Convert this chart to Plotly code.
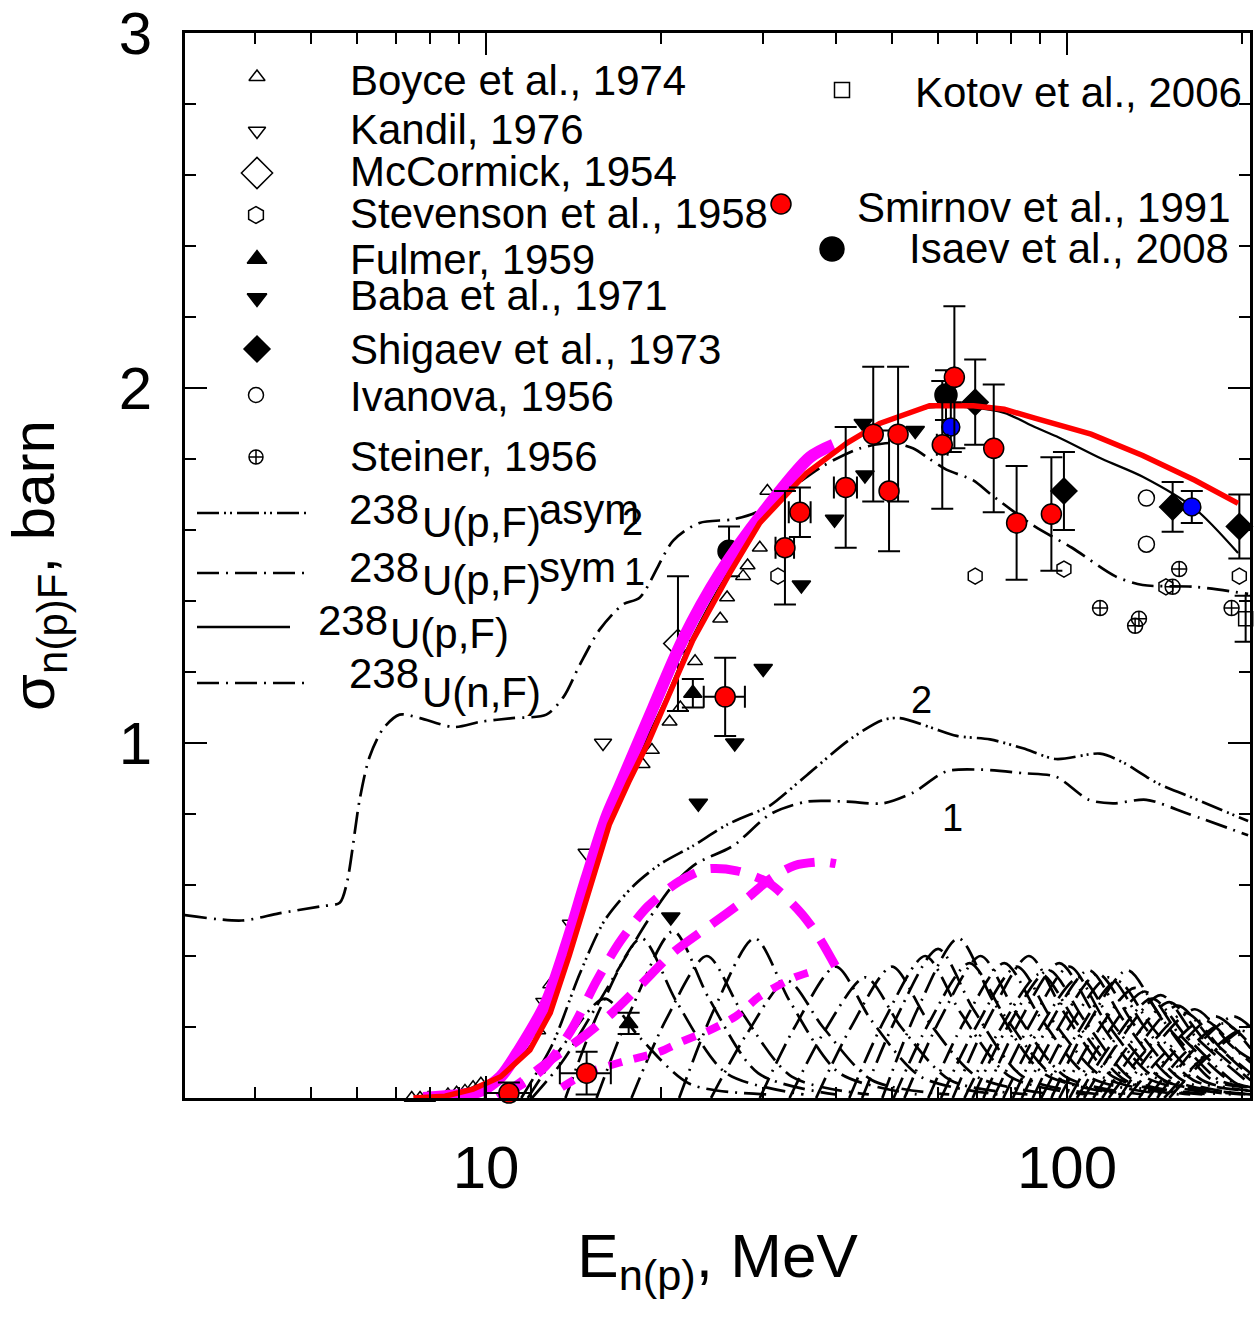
import plotly.graph_objects as go

# ---------------- layout constants ----------------
FIG_W, FIG_H = 1255, 1317
ML, MR, MT, MB = 185, 5, 33, 219
PW = FIG_W - ML - MR
PH = FIG_H - MT - MB
FONT = "Liberation Sans, Arial, sans-serif"

# ---------------- experimental data ----------------
boyce_x = [7.45, 7.7, 7.95, 8.6, 8.9, 9.2, 9.5, 9.8, 12.3, 12.9, 18.6, 19.3, 20.7, 21.6, 22.9, 25.3, 26.0, 27.7, 28.2, 29.6, 30.5]
boyce_y = [0.0, 0.0, 0.0, 0.01, 0.015, 0.02, 0.03, 0.04, 0.19, 0.32, 0.94, 0.98, 1.06, 1.10, 1.23, 1.35, 1.41, 1.47, 1.50, 1.55, 1.71]

kandil_x = [12.6, 14.0, 14.9, 15.9]
kandil_y = [0.27, 0.49, 0.69, 1.00]

mccormick_x = [21.4]
mccormick_y = [1.28]
mccormick_ey = [0.19]

stevenson_x = [31.8, 69.5, 98.8, 148, 198]
stevenson_y = [1.47, 1.47, 1.49, 1.44, 1.47]

fulmer_x = [17.6, 22.7]
fulmer_y = [0.21, 1.14]
fulmer_ey = [0.03, 0.04]

baba_x = [20.8, 23.2, 26.8, 30.0, 34.9, 39.8, 44.6, 44.9, 54.8]
baba_y = [0.51, 0.83, 1.00, 1.21, 1.445, 1.63, 1.90, 1.755, 1.88]

shigaev_x = [69.5, 98.8, 152, 198]
shigaev_y = [1.96, 1.71, 1.665, 1.61]
shigaev_ey = [0.12, 0.11, 0.07, 0.09]

ivanova_x = [137, 137]
ivanova_y = [1.69, 1.56]

steiner_x = [114, 131, 133, 152, 156, 192]
steiner_y = [1.38, 1.33, 1.35, 1.44, 1.49, 1.38]

kotov_x = [203]
kotov_y = [1.35]
kotov_ey = [0.065]

smirnov_x = [10.95, 14.9, 25.8, 32.7, 34.7, 41.6, 46.4, 49.4, 51.2, 61.0, 64.0, 74.8, 81.9, 94.0]
smirnov_y = [0.014, 0.07, 1.13, 1.55, 1.65, 1.72, 1.87, 1.71, 1.87, 1.84, 2.03, 1.83, 1.62, 1.645]
smirnov_ey = [0.03, 0.06, 0.11, 0.16, 0.07, 0.17, 0.19, 0.17, 0.19, 0.18, 0.20, 0.18, 0.16, 0.16]
smirnov_ex = [1.0, 1.5, 2.1, 1.2, 1.5, 1.9, 0, 0, 0, 1.3, 0, 0, 0, 0]

isaev_x = [26.2, 61.9]
isaev_y = [1.54, 1.98]
isaev_ey = [0.07, 0.07]

blue_x = [63.1, 164]
blue_y = [1.89, 1.665]
blue_ey = [0.07, 0.045]

# ---------------- calculated curves ----------------
red_x = [7.5, 8.5, 9.5, 10.6, 11.9, 12.9, 13.9, 15.1, 16.3, 17.6, 19.0, 20.2, 22.7, 26.3, 29.6, 35.6, 41.8,
         47.6, 58, 69, 78, 88, 110, 135, 166, 197]
red_y = [0.0, 0.005, 0.025, 0.06, 0.135, 0.24, 0.40, 0.59, 0.77, 0.89, 1.00, 1.10, 1.29, 1.48, 1.62, 1.76, 1.845,
         1.90, 1.95, 1.95, 1.94, 1.915, 1.87, 1.81, 1.74, 1.675]

pf_x = [7.8, 9.5, 10.6, 11.9, 12.9, 13.9, 15.1, 16.3, 17.6, 19.0, 20.2, 22.7, 26.3, 29.6, 35.6, 41.8, 47.6,
        58, 69, 78, 88, 97, 115, 135, 166, 197]
pf_y = [0.0, 0.03, 0.065, 0.145, 0.255, 0.42, 0.61, 0.79, 0.91, 1.02, 1.11, 1.30, 1.49, 1.62, 1.76, 1.845, 1.90,
        1.945, 1.945, 1.93, 1.89, 1.86, 1.80, 1.75, 1.66, 1.535]

mag_x = [7.8, 8.5, 9.2, 9.8, 10.6, 11.4, 12.7, 13.8, 14.9, 16.1, 17.0, 19.4, 21.8, 25.3, 30.5, 36.1, 39.6]
mag_y = [0.0, 0.005, 0.01, 0.02, 0.06, 0.135, 0.27, 0.44, 0.62, 0.79, 0.88, 1.10, 1.29, 1.48, 1.665, 1.805, 1.84]

nf_x = [3.03, 3.8, 4.4, 5.2, 5.6, 5.76, 6.06, 6.3, 6.65, 7.1, 7.7, 8.8, 9.8, 11.1, 12.7, 13.6, 14.5, 15.7,
        17.2, 18.4, 21.0, 23.3, 26.6, 29.2, 33, 38, 44, 50, 54.3, 58, 62, 69, 74, 88, 102, 121, 135, 166, 205]
nf_y = [0.515, 0.50, 0.52, 0.54, 0.55, 0.605, 0.84, 0.96, 1.04, 1.08, 1.07, 1.045, 1.06, 1.07, 1.08, 1.13,
        1.22, 1.32, 1.39, 1.41, 1.57, 1.62, 1.63, 1.65, 1.71, 1.78, 1.83, 1.845, 1.83, 1.80, 1.77, 1.74, 1.70,
        1.61, 1.55, 1.47, 1.445, 1.44, 1.42]

asym_x = [11.5, 13, 14.5, 16, 18, 20, 22.7, 26, 29.6, 30.9, 35.7, 42.3, 48.2, 51.6, 58, 64.6, 73.7, 84, 95.7,
          114, 125, 143, 162, 205]
asym_y = [0.0, 0.15, 0.35, 0.5, 0.6, 0.66, 0.71, 0.77, 0.81, 0.825, 0.91, 1.01, 1.065, 1.07, 1.045, 1.02, 1.01,
          0.985, 0.955, 0.97, 0.945, 0.887, 0.85, 0.78]

sym_x = [12, 13.5, 15, 17, 19, 21, 23, 26.6, 30.9, 35.7, 41.8, 48.2, 54.3, 62, 70.9, 84, 95.7, 109, 120, 137,
         162, 205]
sym_y = [0.0, 0.1, 0.22, 0.37, 0.5, 0.6, 0.66, 0.71, 0.80, 0.835, 0.835, 0.83, 0.86, 0.92, 0.925, 0.915, 0.905,
         0.84, 0.83, 0.84, 0.80, 0.74]

magd1_x = [10.5, 12.5, 14, 15.5, 17, 19, 21.5, 24, 27, 30.7, 34.9, 37.5, 40]
magd1_y = [0.0, 0.08, 0.19, 0.33, 0.44, 0.54, 0.61, 0.645, 0.64, 0.605, 0.52, 0.45, 0.37]

magd2_x = [10.5, 11.6, 13, 14.9, 16.5, 18.5, 21, 24, 28, 31, 34, 38, 40]
magd2_y = [0.0, 0.05, 0.11, 0.18, 0.24, 0.32, 0.41, 0.48, 0.56, 0.62, 0.655, 0.665, 0.66]

magd3_x = [13.5, 14.9, 17, 19.9, 21.8, 24.2, 26.9, 29.5, 31.3, 34, 37]
magd3_y = [0.03, 0.07, 0.10, 0.13, 0.16, 0.19, 0.23, 0.285, 0.31, 0.34, 0.36]

# individual fission-chance contributions
hump_x = [
    [11.8, 13.6, 16.0, 18.4, 22.4, 30.4],
    [13.7, 15.7, 18.5, 21.3, 25.9, 35.2],
    [15.5, 17.9, 21.0, 24.2, 29.4, 39.9],
    [17.8, 20.4, 24.0, 27.6, 33.6, 45.6],
    [21.5, 24.7, 29.0, 33.4, 40.6, 55.1],
    [24.4, 28.1, 33.0, 38.0, 46.2, 62.7],
    [29.6, 34.0, 40.0, 46.0, 56.0, 76.0],
    [33.3, 38.3, 45.0, 51.8, 63.0, 85.5],
    [37.0, 42.5, 50.0, 57.5, 70.0, 95.0],
    [42.2, 48.5, 57.0, 65.6, 79.8, 108],
    [48.1, 55.3, 65.0, 74.8, 91.0, 124],
    [52.5, 60.4, 71.0, 81.7, 99.4, 135],
    [57.7, 66.3, 78.0, 89.7, 109, 148],
    [63.6, 73.1, 86.0, 98.9, 120, 163],
    [68.8, 79.0, 93.0, 107, 130, 177],
    [74.7, 85.9, 101, 116, 141, 192],
    [80.7, 92.7, 109, 125, 153, 207],
    [87.3, 100, 118, 136, 165, 207],
    [94.0, 108, 127, 146, 178, 207],
    [101, 116, 136, 156, 190, 207],
    [107, 123, 145, 167, 203],
    [115, 132, 155, 178, 207],
    [123, 141, 166, 191, 207],
    [133, 153, 180, 207],
    [143, 164, 193, 207],
    [150, 173, 203, 207],
    [44.4, 51.0, 60.0, 69.0, 84.0, 114],
    [50.3, 57.8, 68.0, 78.2, 95.2, 129],
    [60.7, 69.7, 82.0, 94.3, 115, 156],
    [66.6, 76.5, 90.0, 104, 126, 171],
    [71.8, 82.5, 97.0, 112, 136, 184],
    [77.7, 89.3, 105, 121, 147, 200],
    [83.6, 96.0, 113, 130, 158, 207],
    [90.3, 104, 122, 140, 171, 207],
    [97.0, 111, 131, 151, 183, 207],
    [104, 119, 140, 161, 196, 207],
    [111, 128, 150, 173, 207],
    [118, 136, 160, 184, 207],
    [127, 146, 172, 198, 207],
    [138, 158, 186, 207],
    [147, 168, 198, 207],
]
hump_y = [
    [0, 0.15, 0.28, 0.17, 0.04, 0.01],
    [0, 0.25, 0.45, 0.27, 0.07, 0.01],
    [0, 0.26, 0.47, 0.28, 0.07, 0.01],
    [0, 0.22, 0.40, 0.24, 0.06, 0.01],
    [0, 0.25, 0.45, 0.27, 0.07, 0.01],
    [0, 0.18, 0.33, 0.20, 0.05, 0.01],
    [0, 0.20, 0.37, 0.22, 0.06, 0.01],
    [0, 0.19, 0.34, 0.20, 0.05, 0.01],
    [0, 0.20, 0.37, 0.22, 0.06, 0.01],
    [0, 0.22, 0.40, 0.24, 0.06, 0.01],
    [0, 0.25, 0.45, 0.27, 0.07, 0.01],
    [0, 0.22, 0.40, 0.24, 0.06, 0.01],
    [0, 0.21, 0.38, 0.23, 0.06, 0.01],
    [0, 0.22, 0.40, 0.24, 0.06, 0.01],
    [0, 0.20, 0.36, 0.22, 0.05, 0.01],
    [0, 0.20, 0.37, 0.22, 0.06, 0.01],
    [0, 0.20, 0.36, 0.22, 0.05, 0.01],
    [0, 0.19, 0.34, 0.20, 0.05, 0.02],
    [0, 0.20, 0.36, 0.22, 0.05, 0.03],
    [0, 0.17, 0.30, 0.18, 0.05, 0.03],
    [0, 0.16, 0.29, 0.17, 0.05],
    [0, 0.14, 0.26, 0.16, 0.06],
    [0, 0.14, 0.25, 0.15, 0.10],
    [0, 0.13, 0.23, 0.14],
    [0, 0.13, 0.23, 0.20],
    [0, 0.11, 0.20, 0.20],
    [0, 0.23, 0.42, 0.25, 0.06, 0.01],
    [0, 0.21, 0.38, 0.23, 0.06, 0.01],
    [0, 0.20, 0.37, 0.22, 0.06, 0.01],
    [0, 0.19, 0.35, 0.21, 0.05, 0.01],
    [0, 0.21, 0.38, 0.23, 0.06, 0.01],
    [0, 0.19, 0.34, 0.20, 0.05, 0.01],
    [0, 0.19, 0.35, 0.21, 0.05, 0.01],
    [0, 0.18, 0.33, 0.20, 0.05, 0.02],
    [0, 0.17, 0.31, 0.19, 0.05, 0.03],
    [0, 0.15, 0.28, 0.17, 0.04, 0.03],
    [0, 0.15, 0.27, 0.16, 0.05],
    [0, 0.13, 0.24, 0.14, 0.07],
    [0, 0.12, 0.22, 0.13, 0.11],
    [0, 0.12, 0.21, 0.15],
    [0, 0.10, 0.19, 0.18],
]

# ---------------- axis ticks ----------------
x_tickvals = [10, 100]
x_ticktext = ["10", "100"]
x_minor = [4, 5, 6, 7, 8, 9, 20, 30, 40, 50, 60, 70, 80, 90, 200]
y_tickvals = [1, 2, 3]
y_ticktext = ["1", "2", "3"]
y_minor = [0.2, 0.4, 0.6, 0.8, 1.2, 1.4, 1.6, 1.8, 2.2, 2.4, 2.6, 2.8]

DASHDOT = "22px,7px,2px,7px"
DASHDOTDOT = "22px,5px,2px,4px,2px,5px"

fig = go.Figure()


def line(x, y, color, width, dash="solid", spline=True):
    fig.add_trace(go.Scatter(
        x=x, y=y, mode="lines", showlegend=False, hoverinfo="skip",
        line=dict(color=color, width=width, dash=dash,
                  shape="spline" if spline else "linear", smoothing=0.8)))


def points(x, y, symbol, size, color="black", lw=1.5, ey=None, ex=None, lcolor="black"):
    fig.add_trace(go.Scatter(
        x=x, y=y, mode="markers", showlegend=False, hoverinfo="skip",
        marker=dict(symbol=symbol, size=size, color=color, line=dict(color=lcolor, width=lw)),
        error_y=dict(type="data", array=ey, color="black", thickness=2, width=11, visible=ey is not None),
        error_x=dict(type="data", array=ex, color="black", thickness=2, width=11, visible=ex is not None),
        cliponaxis=False))


# humps
for hx, hy in zip(hump_x, hump_y):
    line(hx, hy, "black", 2.7, DASHDOT)

# component curves
line(asym_x, asym_y, "black", 2.7, DASHDOTDOT)
line(sym_x, sym_y, "black", 2.7, DASHDOT)
line(nf_x, nf_y, "black", 2.7, DASHDOT)

# magenta dashed contributions
line(magd1_x, magd1_y, "#FF00FF", 9, "30px,16px")
line(magd2_x, magd2_y, "#FF00FF", 9, "30px,16px")
line(magd3_x, magd3_y, "#FF00FF", 8, "14px,12px")

# black solid
line(pf_x, pf_y, "black", 2.2, "solid", spline=True)

# open / black markers
points(boyce_x, boyce_y, "triangle-up-open", 13)
points(kandil_x, kandil_y, "triangle-down-open", 15)
points(mccormick_x, mccormick_y, "diamond-open", 22, ey=mccormick_ey)
points(stevenson_x, stevenson_y, "hexagon-open", 16)
points(fulmer_x, fulmer_y, "triangle-up", 16, ey=fulmer_ey)
points(baba_x, baba_y, "triangle-down", 16)
points(shigaev_x, shigaev_y, "diamond", 20, ey=shigaev_ey)
points(ivanova_x, ivanova_y, "circle-open", 16)
points(steiner_x, steiner_y, "circle-cross-open", 15)
points(kotov_x, kotov_y, "square-open", 14, ey=kotov_ey)
points(isaev_x, isaev_y, "circle", 22, ey=isaev_ey)

# magenta thick and red curves
line(mag_x, mag_y, "#FF00FF", 12, "solid")
line(red_x, red_y, "#FF0000", 5.5, "solid", spline=False)

points(blue_x, blue_y, "circle", 18, color="#0000FF", ey=blue_ey)
points(smirnov_x, smirnov_y, "circle", 20, color="#FF0000", ey=smirnov_ey, ex=smirnov_ex)

# ---------------- in-plot legend ----------------
def fx(px):
    return (px - ML) / PW


def fy(py):
    return (FIG_H - MB - py) / PH


leg_markers = [  # (label, symbol, size, fill, px, py, text_px, text_py)
    ("Boyce et al., 1974", "triangle-up-open", 14, "black", 257, 77, 348, 80),
    ("Kandil, 1976", "triangle-down-open", 15, "black", 257, 131, 348, 129),
    ("McCormick, 1954", "diamond-open", 24, "black", 257, 173, 348, 172),
    ("Stevenson et al., 1958", "hexagon-open", 17, "black", 256, 215, 348, 213),
    ("Fulmer, 1959", "triangle-up", 17, "black", 257, 259, 348, 259),
    ("Baba et al., 1971", "triangle-down", 17, "black", 257, 298, 348, 296),
    ("Shigaev et al., 1973", "diamond", 20, "black", 257, 349, 348, 349),
    ("Ivanova, 1956", "circle-open", 15, "black", 256, 395, 348, 396),
    ("Steiner, 1956", "circle-cross-open", 14, "black", 256, 457, 348, 457),
    ("Kotov et al., 2006", "square-open", 15, "black", 842, 90, 913, 92),
    ("Smirnov et al., 1991", "circle", 20, "#FF0000", 781, 204, 855, 207),
    ("Isaev et al., 2008", "circle", 24, "black", 832, 249, 907, 249),
]

annotations = []


def text(t, px, py, size=42, anchor="left"):
    annotations.append(dict(text=t, x=fx(px), y=fy(py), xref="paper", yref="paper",
                            xanchor=anchor, yanchor="middle", showarrow=False,
                            font=dict(size=size, family=FONT, color="black")))


for lab, sym, sz, col, mx, my, tx, ty in leg_markers:
    fig.add_trace(go.Scatter(
        x=[fx(mx)], y=[fy(my)], xaxis="x2", yaxis="y2", mode="markers", showlegend=False,
        hoverinfo="skip", cliponaxis=False,
        marker=dict(symbol=sym, size=sz, color=col, line=dict(color="black", width=1.5))))
    text(lab, tx, ty)

leg_lines = [  # (dash, x0, x1, py)
    (DASHDOTDOT, 197, 310, 513),
    (DASHDOT, 197, 310, 573),
    ("solid", 197, 290, 627),
    (DASHDOT, 197, 310, 683),
]
for dash, x0, x1, py in leg_lines:
    fig.add_trace(go.Scatter(
        x=[fx(x0), fx(x1)], y=[fy(py), fy(py)], xaxis="x2", yaxis="y2", mode="lines",
        showlegend=False, hoverinfo="skip", cliponaxis=False,
        line=dict(color="black", width=2.6, dash=dash)))

leg_line_texts = [  # (text, px, py)
    ("238", 347, 509), ("U(p,F)", 420, 522), ("asym", 537, 509),
    ("238", 347, 568), ("U(p,F)", 420, 580), ("sym", 537, 568),
    ("238", 316, 621), ("U(p,F)", 388, 633),
    ("238", 347, 674), ("U(n,F)", 420, 692),
]
for t, px, py in leg_line_texts:
    text(t, px, py)

curve_labels = [("2", 632, 522), ("1", 634, 572), ("2", 921, 700), ("1", 952, 818)]
for t, px, py in curve_labels:
    text(t, px, py, size=38, anchor="center")

axis_common = dict(
    showline=True, linecolor="black", linewidth=3, mirror="ticks",
    ticks="inside", ticklen=22, tickwidth=2, tickcolor="black",
    showgrid=False, zeroline=False,
    tickfont=dict(size=60, family=FONT, color="black"),
)

fig.update_layout(
    width=FIG_W, height=FIG_H,
    margin=dict(l=ML, r=MR, t=MT, b=MB, autoexpand=False),
    paper_bgcolor="white", plot_bgcolor="white",
    showlegend=False,
    font=dict(family=FONT, color="black"),
    xaxis=dict(
        type="log", range=[0.4819, 2.3150],
        tickmode="array", tickvals=x_tickvals, ticktext=x_ticktext,
        minor=dict(tickmode="array", tickvals=x_minor, ticklen=11, tickwidth=2, ticks="inside", tickcolor="black"),
        ticklabelstandoff=15,
        title=dict(text="E<sub>n(p)</sub>, MeV", font=dict(size=62, family=FONT), standoff=34),
        **axis_common),
    yaxis=dict(
        range=[0, 3],
        tickmode="array", tickvals=y_tickvals, ticktext=y_ticktext,
        minor=dict(tickmode="array", tickvals=y_minor, ticklen=11, tickwidth=2, ticks="inside", tickcolor="black"),
        ticklabelstandoff=18,
        title=dict(text="σ<sub>n(p)F</sub>, barn", font=dict(size=60, family=FONT), standoff=50),
        **axis_common),
    xaxis2=dict(overlaying="x", range=[0, 1], visible=False, fixedrange=True),
    yaxis2=dict(overlaying="y", range=[0, 1], visible=False, fixedrange=True),
    annotations=annotations,
)

fig.write_html("out.html")
